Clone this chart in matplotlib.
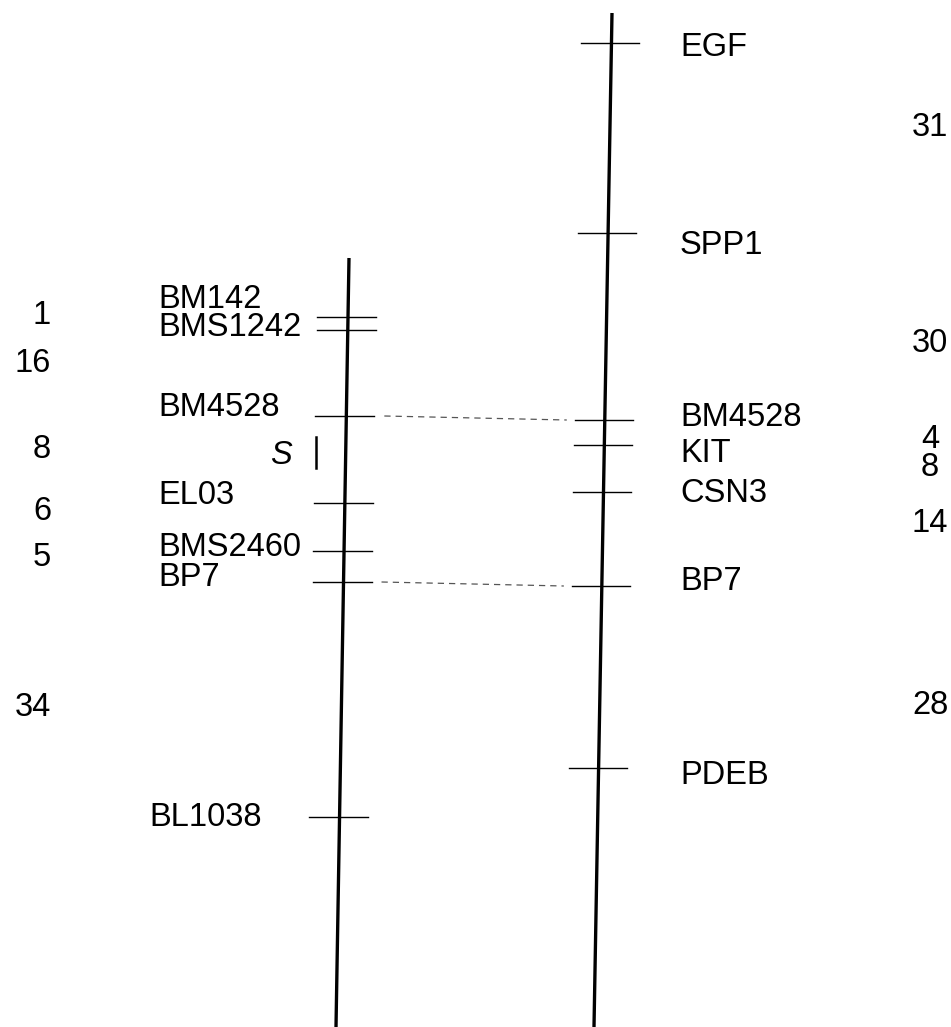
import matplotlib.pyplot as plt
import numpy as np

# linkage map, positions in drawing units (top = 0)
left_markers = ["BM142", "BMS1242", "BM4528", "EL03", "BMS2460", "BP7", "BL1038"]
left_pos = [317, 330, 416, 503, 551, 582, 817]
left_label_y = [300, 328, 408, 495, 547, 578, 817]
left_dist = ["1", "16", "8", "6", "5", "34"]
left_dist_y = [315, 363, 450, 512, 558, 708]

right_markers = ["EGF", "SPP1", "BM4528", "KIT", "CSN3", "BP7", "PDEB"]
right_pos = [43, 233, 420, 445, 492, 586, 768]
right_label_y = [48, 245, 418, 453, 493, 582, 775]
right_dist = ["31", "30", "4", "8", "14", "28"]
right_dist_y = [128, 343, 440, 468, 523, 705]

# markers shared between the two maps
shared = ["BM4528", "BP7"]

plt.rcParams['font.family'] = ['Liberation Sans', 'DejaVu Sans']

fig = plt.figure(figsize=(9.51, 10.27), dpi=100)
ax = fig.add_axes([0, 0, 1, 1])
ax.set_xlim(0, 951)
ax.set_ylim(1027, 0)
ax.axis("off")

# chromosome lines (slightly tilted in the scan)
left_chrom = ([349, 336], [258, 1027])
right_chrom = ([612, 594], [13, 1027])


def chrom_x(chrom, y):
    xs, ys = chrom
    return np.interp(y, ys, xs)


fs = 23.5
for chrom in (left_chrom, right_chrom):
    ax.plot(chrom[0], chrom[1], color="black", lw=2.4, solid_capstyle="butt")

for name, y, ly in zip(left_markers, left_pos, left_label_y):
    x = chrom_x(left_chrom, y)
    ax.plot([x - 31, x + 28], [y, y], color="black", lw=1.0)
    lx = 149 if name == "BL1038" else 158
    ax.text(lx, ly, name, fontsize=fs, ha="left", va="center")

for name, y, ly in zip(right_markers, right_pos, right_label_y):
    x = chrom_x(right_chrom, y)
    ax.plot([x - 30, x + 28], [y, y], color="black", lw=1.0)
    ax.text(680, ly, name, fontsize=fs, ha="left", va="center")

for d, y in zip(left_dist, left_dist_y):
    ax.text(51, y, d, fontsize=fs, ha="right", va="center")

for d, y in zip(right_dist, right_dist_y):
    ax.text(930, y, d, fontsize=fs, ha="center", va="center")

# dashed links between shared markers
for name in shared:
    y1 = left_pos[left_markers.index(name)]
    y2 = right_pos[right_markers.index(name)]
    x1 = chrom_x(left_chrom, y1) + 38
    x2 = chrom_x(right_chrom, y2) - 38
    ax.plot([x1, x2], [y1, y2], color="#555555", lw=0.9, ls=(0, (5, 4)))

# S locus
ax.text(281, 455, "S", fontsize=fs, style="italic", ha="center", va="center")
ax.plot([316, 316], [437, 468], color="black", lw=1.8)

fig.savefig("out.png", dpi=100)
